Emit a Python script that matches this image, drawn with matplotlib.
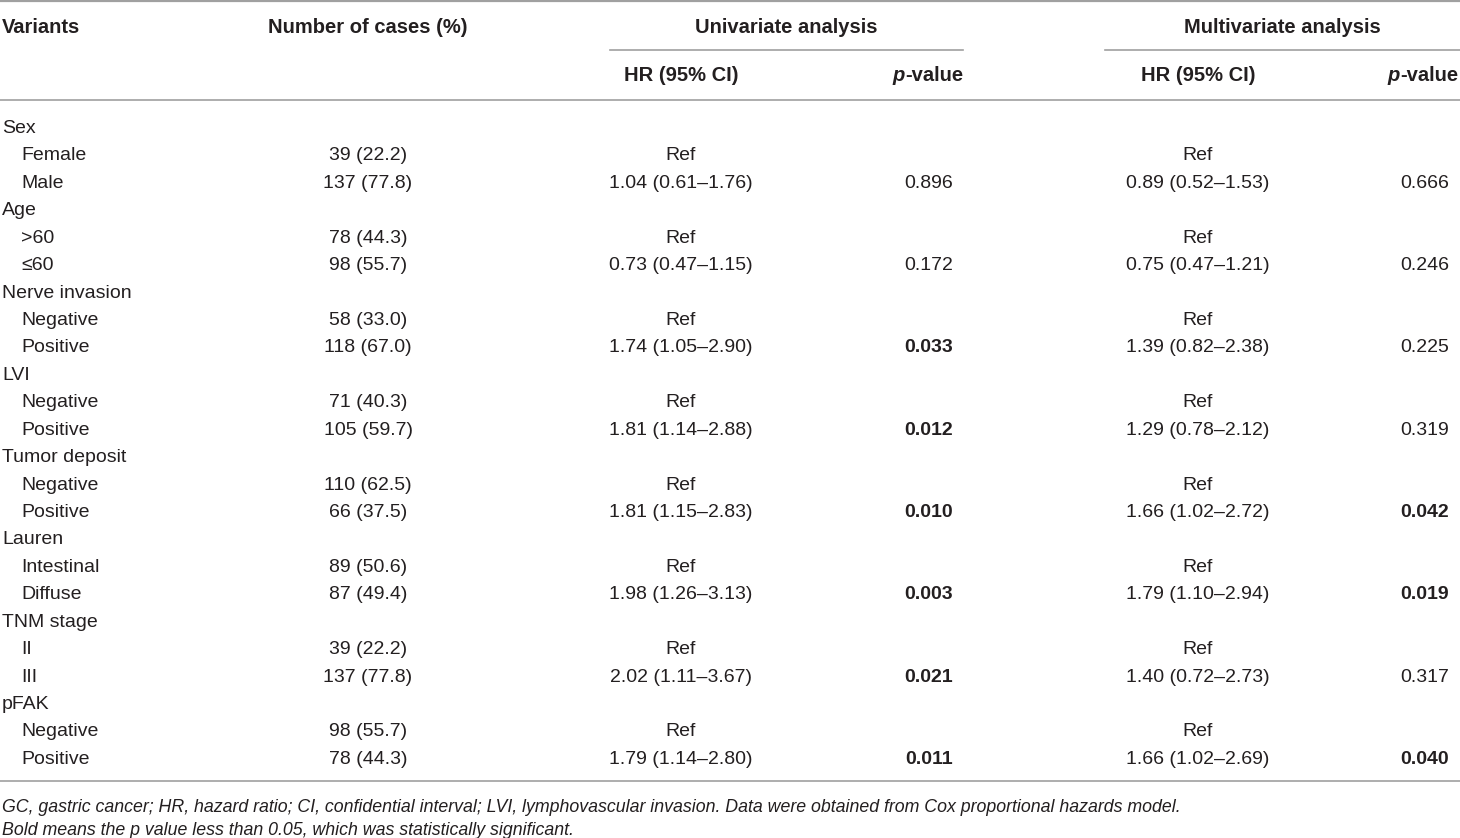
import matplotlib
matplotlib.use("Agg")
import matplotlib.pyplot as plt
from matplotlib.lines import Line2D

variables = ["Sex", "Age", "Nerve invasion", "LVI", "Tumor deposit", "Lauren", "TNM stage", "pFAK"]
levels = [["Female", "Male"], [">60", "≤60"], ["Negative", "Positive"], ["Negative", "Positive"],
          ["Negative", "Positive"], ["Intestinal", "Diffuse"], ["II", "III"], ["Negative", "Positive"]]
cases = [["39 (22.2)", "137 (77.8)"], ["78 (44.3)", "98 (55.7)"], ["58 (33.0)", "118 (67.0)"],
         ["71 (40.3)", "105 (59.7)"], ["110 (62.5)", "66 (37.5)"], ["89 (50.6)", "87 (49.4)"],
         ["39 (22.2)", "137 (77.8)"], ["98 (55.7)", "78 (44.3)"]]
uni_hr = ["1.04 (0.61–1.76)", "0.73 (0.47–1.15)", "1.74 (1.05–2.90)", "1.81 (1.14–2.88)",
          "1.81 (1.15–2.83)", "1.98 (1.26–3.13)", "2.02 (1.11–3.67)", "1.79 (1.14–2.80)"]
uni_p = [0.896, 0.172, 0.033, 0.012, 0.010, 0.003, 0.021, 0.011]
multi_hr = ["0.89 (0.52–1.53)", "0.75 (0.47–1.21)", "1.39 (0.82–2.38)", "1.29 (0.78–2.12)",
            "1.66 (1.02–2.72)", "1.79 (1.10–2.94)", "1.40 (0.72–2.73)", "1.66 (1.02–2.69)"]
multi_p = [0.666, 0.246, 0.225, 0.319, 0.042, 0.019, 0.317, 0.040]
footnotes = [
    "GC, gastric cancer; HR, hazard ratio; CI, confidential interval; LVI, lymphovascular invasion. Data were obtained from Cox proportional hazards model.",
    "Bold means the p value less than 0.05, which was statistically significant.",
]

W, H = 1460, 838
plt.rcParams['font.family'] = ["Liberation Sans", "DejaVu Sans"]
TXT = "#231f20"
LINE = "#a0a0a0"
FS = 14
FS_HEAD = 14.5
FS_FOOT = 12.8

fig = plt.figure(figsize=(W / 100, H / 100), dpi=100)
ax = fig.add_axes([0, 0, 1, 1])
ax.set_xlim(0, W)
ax.set_ylim(H, 0)
ax.axis("off")


def t(x, y, s, ha="left", bold=False, italic=False, size=FS):
    return ax.text(x, y, s, ha=ha, va="baseline", color=TXT, fontsize=size,
                   fontweight="bold" if bold else "normal",
                   fontstyle="italic" if italic else "normal")


def hline(x0, x1, y, lw=1.2):
    ax.add_line(Line2D([x0, x1], [y, y], color=LINE, lw=lw))


# columns
X_VAR = 2
X_LEV = 21
X_CASES = 368
X_UHR = 681
X_UP_C = 929
X_UP_R = 963
X_MHR = 1198
X_MP_C = 1425
X_MP_R = 1458

# rules
hline(0, W, 1.5, lw=1.6)
hline(610, 963, 50)
hline(1105, W, 50)
hline(0, W, 100)
hline(0, W, 781)

# header
t(X_VAR, 33, "Variants", bold=True, size=FS_HEAD)
t(X_CASES, 33, "Number of cases (%)", ha="center", bold=True, size=FS_HEAD)
t((610 + 963) / 2, 33, "Univariate analysis", ha="center", bold=True, size=FS_HEAD)
t((1105 + W) / 2, 33, "Multivariate analysis", ha="center", bold=True, size=FS_HEAD)
t(X_UHR, 81, "HR (95% CI)", ha="center", bold=True, size=FS_HEAD)
t(X_MHR, 81, "HR (95% CI)", ha="center", bold=True, size=FS_HEAD)

fig.canvas.draw()
renderer = fig.canvas.get_renderer()
inv = ax.transData.inverted()
for xr in (X_UP_R, X_MP_R):
    tv = t(xr, 81, "-value", ha="right", bold=True, size=FS_HEAD)
    bb = tv.get_window_extent(renderer)
    x_left = inv.transform((bb.x0, bb.y0))[0]
    t(x_left, 81, "p", ha="right", bold=True, italic=True, size=FS_HEAD)

# body
y0, dy = 133, 27.43
row = 0
for i, var in enumerate(variables):
    t(X_VAR, y0 + row * dy, var)
    row += 1
    for j in range(2):
        y = y0 + row * dy
        t(X_LEV, y, levels[i][j])
        t(X_CASES, y, cases[i][j], ha="center")
        if j == 0:
            t(X_UHR, y, "Ref", ha="center")
            t(X_MHR, y, "Ref", ha="center")
        else:
            t(X_UHR, y, uni_hr[i], ha="center")
            t(X_UP_C, y, f"{uni_p[i]:.3f}", ha="center", bold=uni_p[i] < 0.05)
            t(X_MHR, y, multi_hr[i], ha="center")
            t(X_MP_C, y, f"{multi_p[i]:.3f}", ha="center", bold=multi_p[i] < 0.05)
        row += 1

# footnotes
t(X_VAR, 812, footnotes[0], italic=True, size=FS_FOOT)
t(X_VAR, 835, footnotes[1], italic=True, size=FS_FOOT)

fig.savefig("out.png", dpi=100)
